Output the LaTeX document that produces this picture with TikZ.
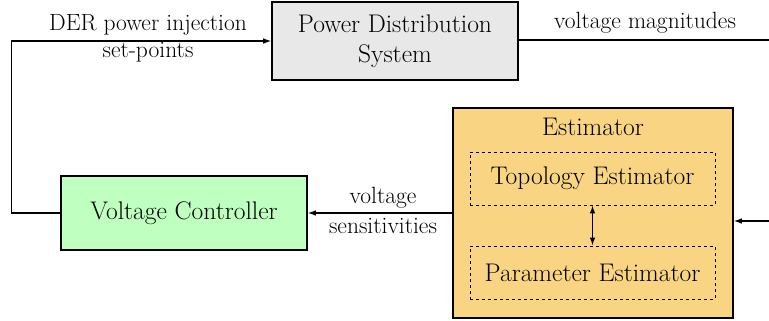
\documentclass[tikz,border=0pt]{standalone}
\usetikzlibrary{arrows.meta}
\definecolor{pdsfill}{HTML}{E8E8E8}
\definecolor{vcfill}{HTML}{BFFFBF}
\definecolor{estfill}{HTML}{F9D583}
\tikzset{
  blk/.style={draw, line width=1.6pt, inner sep=0pt, align=center, font=\fontsize{25.5}{30}\selectfont},
  sub/.style={draw, dashed, line width=0.9pt, inner sep=0pt, align=center, minimum width=245pt, minimum height=53pt, font=\fontsize{25.5}{30}\selectfont},
  lbl/.style={align=center, inner sep=0pt, font=\fontsize{23.5}{27}\selectfont},
  conn/.style={line width=1.1pt, -{Latex[length=8pt,width=5.5pt]}},
  plain/.style={line width=1.1pt}
}
\begin{document}
\begin{tikzpicture}[x=1pt,y=-1pt]
\useasboundingbox (0,0) rectangle (769,321);
\node[blk, fill=pdsfill, minimum width=246pt, minimum height=78pt] (pds) at (395,41) {Power Distribution\\System};
\node[blk, fill=vcfill, minimum width=246pt, minimum height=74pt] (vc) at (184,213) {Voltage Controller};
\node[blk, fill=estfill, minimum width=280pt, minimum height=210pt] (est) at (593,213) {};
\node[lbl, font=\fontsize{25.5}{30}\selectfont] (esttitle) at (593,127) {Estimator};
\node[sub] (topo) at (592.5,178.5) {Topology Estimator};
\node[sub] (param) at (592.5,272.5) {Parameter Estimator};
\draw[line width=1.1pt, {Latex[length=8pt,width=5.5pt]}-{Latex[length=8pt,width=5.5pt]}] (topo.south) -- (param.north);
\draw[conn] (vc.west) -- ++(-49,0) |- (pds.west);
\node[lbl] (derlbl) at (148,25) {DER power injection};
\node[lbl] (splbl) at (148,52) {set-points};
\coordinate (rout) at (769,40);
\draw[plain] (pds.east |- rout) -- (rout);
\node[lbl] (vmlbl) at (645,23) {voltage magnitudes};
\draw[conn] (est.west) -- (vc.east);
\node[lbl] (vslbl1) at (383,198) {voltage};
\node[lbl] (vslbl2) at (383,226) {sensitivities};
\coordinate (rin) at (769,221);
\draw[conn] (rin) -- (est.east |- rin);
\end{tikzpicture}
\end{document}
